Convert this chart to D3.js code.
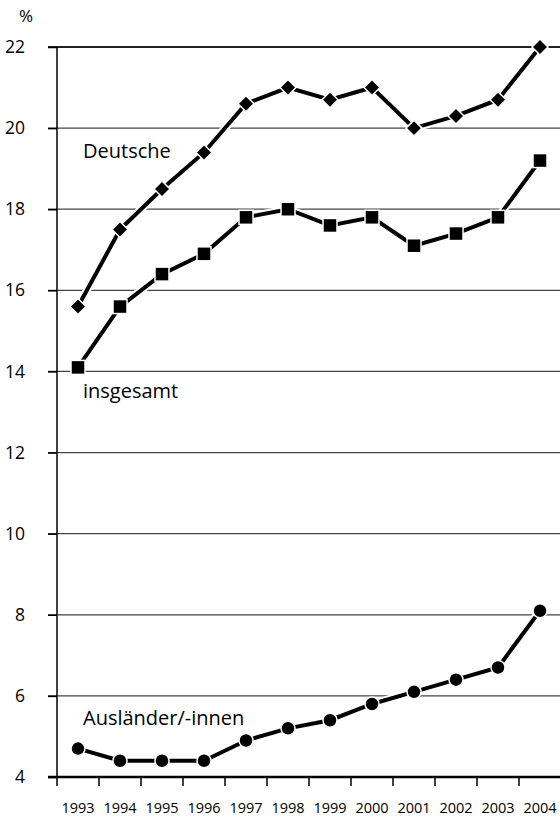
<!DOCTYPE html>
<html><head><meta charset="utf-8">
<script src="https://cdn.jsdelivr.net/npm/d3@7"></script>
<style>body{margin:0;background:#fff}svg{display:block}text{font-family:"Open Sans","DejaVu Sans",sans-serif;fill:#000}</style>
</head><body><svg id="c" width="560" height="821"></svg>
<script>
const years = ["1993","1994","1995","1996","1997","1998","1999","2000","2001","2002","2003","2004"];
const deutsche = [15.6,17.5,18.5,19.4,20.6,21.0,20.7,21.0,20.0,20.3,20.7,22.0];
const insgesamt = [14.1,15.6,16.4,16.9,17.8,18.0,17.6,17.8,17.1,17.4,17.8,19.2];
const auslaender = [4.7,4.4,4.4,4.4,4.9,5.2,5.4,5.8,6.1,6.4,6.7,8.1];
const yTicks = [4,6,8,10,12,14,16,18,20,22];
const seriesNames = ["Deutsche","insgesamt","Ausländer/-innen"];

const svg = d3.select("#c");
const x = d3.scaleBand().domain(years).range([57,561]);
const y = d3.scaleLinear().domain([4,22]).range([777,47]);

// gridlines
svg.append("g").selectAll("line").data(yTicks.filter(d=>d>4)).join("line")
  .attr("x1",48).attr("x2",560).attr("y1",d=>y(d)).attr("y2",d=>y(d))
  .attr("stroke",d=>d===22?"#222":"#444").attr("stroke-width",d=>d===22?2:1.2);

// y axis
const ya = svg.append("g").attr("transform","translate(57,0)")
  .call(d3.axisLeft(y).tickValues(yTicks).tickSize(9).tickPadding(23).tickFormat(d3.format("d")));
ya.attr("font-size",17.5).attr("font-family",null);
ya.select(".domain").attr("stroke","#000").attr("stroke-width",1.5).attr("d","M0,47V777");
ya.selectAll(".tick line").attr("stroke","#000").attr("stroke-width",1.5);

// x axis
const xa = svg.append("g").attr("transform","translate(0,777)")
  .call(d3.axisBottom(x).tickSize(0).tickPadding(26));
xa.attr("font-size",14.5).attr("font-family",null);
xa.select(".domain").attr("stroke","#000").attr("stroke-width",2.5).attr("d","M48,0H560");
svg.append("g").selectAll("line").data(years).join("line")
  .attr("x1",d=>x(d)).attr("x2",d=>x(d)).attr("y1",777).attr("y2",786)
  .attr("stroke","#000").attr("stroke-width",1.5);

svg.append("text").attr("x",19).attr("y",22).attr("font-size",17).text("%");

const line = d3.line().x((d,i)=>x(years[i])+x.bandwidth()/2).y(d=>y(d));
const all = [deutsche,insgesamt,auslaender];

all.forEach((s,k)=>{
  const g = svg.append("g");
  g.append("path").datum(s).attr("d",line).attr("fill","none").attr("stroke","#fff").attr("stroke-width",8);
  g.append("path").datum(s).attr("d",line).attr("fill","none").attr("stroke","#000").attr("stroke-width",4);
  const pts = g.selectAll("g.p").data(s).join("g").attr("transform",(d,i)=>`translate(${x(years[i])+x.bandwidth()/2},${y(d)})`);
  if(k===0){
    pts.append("path").attr("d","M0,-8L8,0L0,8L-8,0Z").attr("fill","#000").attr("stroke","#fff").attr("stroke-width",1.5);
  } else if(k===1){
    pts.append("rect").attr("x",-7).attr("y",-7).attr("width",14).attr("height",14).attr("fill","#000").attr("stroke","#fff").attr("stroke-width",1.5);
  } else {
    pts.append("circle").attr("r",7).attr("fill","#000").attr("stroke","#fff").attr("stroke-width",1.5);
  }
});

const labelPos = [[83,158],[83,398],[83,725]];
seriesNames.forEach((n,i)=>{
  svg.append("text").attr("x",labelPos[i][0]).attr("y",labelPos[i][1]).attr("font-size",20).text(n);
});
</script></body></html>
